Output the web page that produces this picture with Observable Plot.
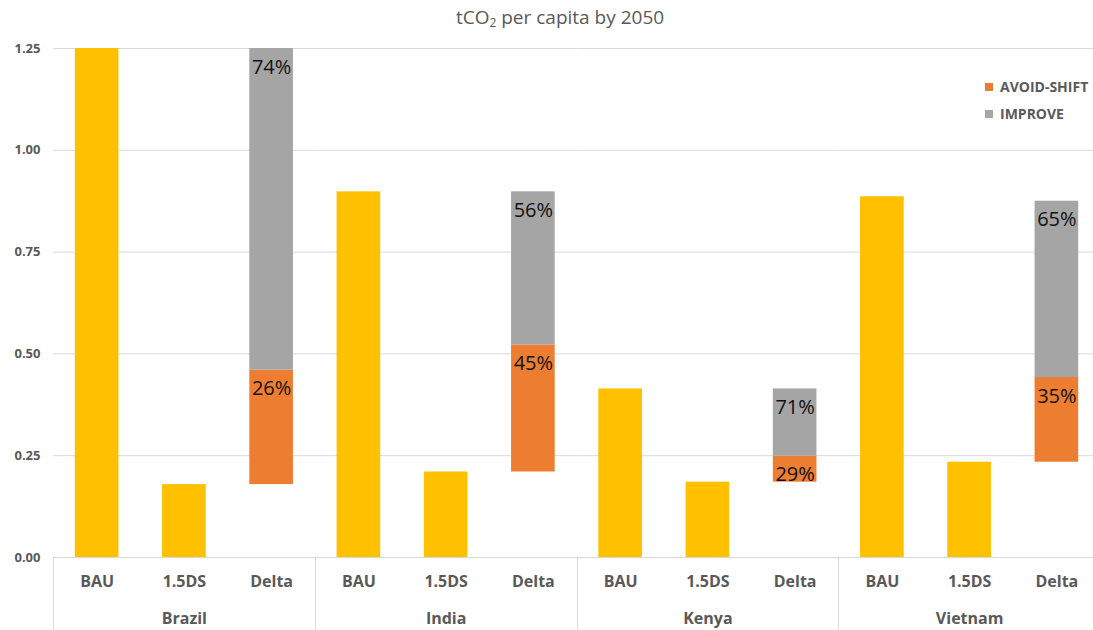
<!DOCTYPE html>
<html>
<head>
<meta charset="utf-8">
<script src="https://cdn.jsdelivr.net/npm/d3@7"></script>
<script src="https://cdn.jsdelivr.net/npm/@observablehq/plot@0.6"></script>
<style>
  html, body { margin: 0; padding: 0; overflow: hidden; background: #fff; width: 1093px; height: 630px; }
  #wrap { position: relative; width: 1093px; height: 630px; font-family: "Open Sans", sans-serif; overflow: hidden; }
  #title { position: absolute; left: 0; width: 1120px; top: 5px; line-height: 24px; text-align: center; font-size: 19px; color: #595959; }
  #title sub { font-size: 12px; vertical-align: -3px; line-height: 0; }
  #chart { position: absolute; left: 0; top: 30px; width: 1100px; }
  #chart svg { max-width: none !important; }
  .leg { position: absolute; left: 985px; font-size: 14px; font-weight: bold; color: #595959; line-height: 16px; }
  .leg span.sw { position: absolute; left: 0; top: 4px; width: 8px; height: 8px; }
  .leg span.tx { position: absolute; left: 15px; top: 0; white-space: nowrap; }
</style>
</head>
<body>
<div id="wrap">
  <div id="title">tCO<sub>2</sub> per capita by 2050</div>
  <div id="chart"></div>
  <div class="leg" style="top:79px"><span class="sw" style="background:#ED7D31"></span><span class="tx">AVOID-SHIFT</span></div>
  <div class="leg" style="top:106px"><span class="sw" style="background:#A5A5A5"></span><span class="tx">IMPROVE</span></div>
</div>
<script>
// ---- data ----
const countries = ["Brazil", "India", "Kenya", "Vietnam"];
const series = ["BAU", "1.5DS", "Delta"];
const bau = [1.25, 0.898, 0.414, 0.886];
const ds15 = [0.179, 0.21, 0.185, 0.234];
const avoidShiftTop = [0.460, 0.522, 0.249, 0.442];
const deltaTop = [1.25, 0.898, 0.414, 0.875];
const avoidPct = ["26%", "45%", "29%", "35%"];
const improvePct = ["74%", "56%", "71%", "65%"];
const yTicks = [0, 0.25, 0.5, 0.75, 1.0, 1.25];

// ---- tables built from the arrays ----
const bars = [];
const labels = [];
countries.forEach((c, i) => {
  bars.push({country: c, series: "BAU", y1: 0, y2: bau[i], part: "total"});
  bars.push({country: c, series: "1.5DS", y1: 0, y2: ds15[i], part: "total"});
  bars.push({country: c, series: "Delta", y1: ds15[i], y2: avoidShiftTop[i], part: "AVOID-SHIFT"});
  bars.push({country: c, series: "Delta", y1: avoidShiftTop[i], y2: deltaTop[i], part: "IMPROVE"});
  labels.push({country: c, series: "Delta", y: avoidShiftTop[i], text: avoidPct[i]});
  labels.push({country: c, series: "Delta", y: deltaTop[i], text: improvePct[i]});
});

const W = 1100, H = 600, MT = 18, MB = 73, ML = 53, MR = 0;

const plot = Plot.plot({
  width: W,
  height: H,
  marginTop: MT,
  marginBottom: MB,
  marginLeft: ML,
  marginRight: MR,
  style: {fontFamily: "'Open Sans', sans-serif", color: "#595959", background: "white", overflow: "visible", maxWidth: "none"},
  fx: {domain: countries, paddingInner: 0, paddingOuter: 0, round: false, axis: null, label: null},
  x: {domain: series, paddingInner: 0.5, paddingOuter: 0.25, round: false, axis: null, label: null},
  y: {domain: [0, 1.25], axis: null, label: null},
  color: {domain: ["total", "AVOID-SHIFT", "IMPROVE"], range: ["#FFC000", "#ED7D31", "#A5A5A5"]},
  marks: [
    Plot.gridY(yTicks.slice(1), {stroke: "#d9d9d9", strokeOpacity: 1, strokeWidth: 1}),
    Plot.ruleY([0], {stroke: "#d9d9d9", strokeWidth: 1}),
    Plot.barY(bars, {fx: "country", x: "series", y1: "y1", y2: "y2", fill: "part"}),
    Plot.text(labels, {fx: "country", x: "series", y: "y", text: "text", lineAnchor: "top", dy: 11, fontSize: 20, fill: "#111"}),
    Plot.axisY({ticks: yTicks, tickFormat: d3.format(".2f"), tickSize: 0, tickPadding: 13, fontSize: 13, fontWeight: "bold", label: null}),
    Plot.axisX({tickSize: 0, tickPadding: 18, fontSize: 16, fontWeight: "bold", label: null}),
    Plot.axisFx({anchor: "bottom", tickSize: 0, tickPadding: 55, fontSize: 16, fontWeight: "bold", label: null})
  ]
});

document.getElementById("chart").appendChild(plot);

// group separators at the bottom, positioned from Plot's fx scale
const fxs = plot.scale("fx");
const svg = d3.select(plot.tagName.toLowerCase() === "svg" ? plot : plot.querySelector("svg"));
const edges = countries.map(c => fxs.apply(c));
edges.push(fxs.apply(countries[countries.length - 1]) + fxs.bandwidth);
svg.append("g")
  .selectAll("line")
  .data(edges)
  .join("line")
  .attr("x1", d => Math.round(d) + 0.5)
  .attr("x2", d => Math.round(d) + 0.5)
  .attr("y1", H - MB)
  .attr("y2", H)
  .attr("stroke", "#d9d9d9")
  .attr("stroke-width", 1);
</script>
</body>
</html>
